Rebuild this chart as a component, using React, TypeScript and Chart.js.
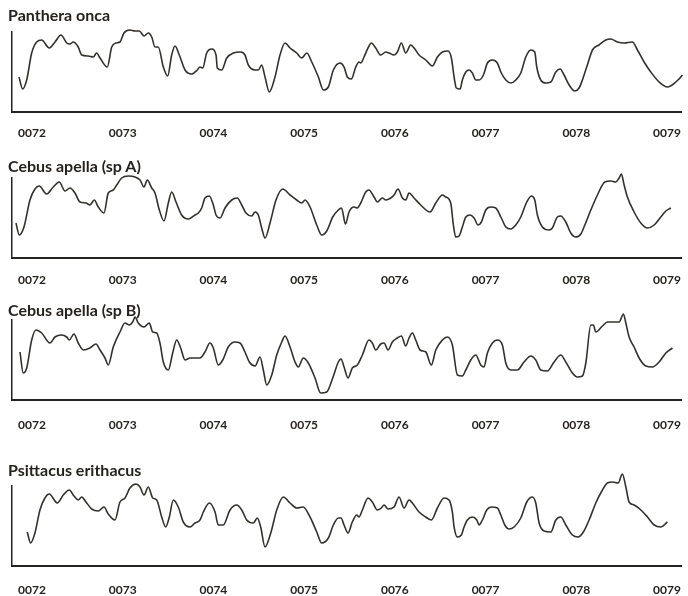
import React, { useEffect, useRef } from "react";
import { Chart, registerables } from "chart.js";

Chart.register(...registerables);

// ---- data ----
const TICK_VALUES = [72, 73, 74, 75, 76, 77, 78, 79];
const TICK_LABELS = ["0072", "0073", "0074", "0075", "0076", "0077", "0078", "0079"];
const X_MIN = 71.78;
const X_MAX = 79.154;
const Y_MIN = 0;
const Y_MAX = 80;

const TITLES = ["Panthera onca", "Cebus apella (sp A)", "Cebus apella (sp B)", "Psittacus erithacus"];

const pantheraX = [
  71.857, 71.897, 71.942, 71.997, 72.052, 72.107, 72.191, 72.254, 72.32, 72.383,
  72.419, 72.455, 72.51, 72.548, 72.621, 72.676, 72.713, 72.75, 72.83, 72.879,
  72.926, 72.97, 73.014, 73.08, 73.136, 73.183, 73.235, 73.282, 73.32, 73.356,
  73.392, 73.448, 73.496, 73.54, 73.577, 73.624, 73.687, 73.761, 73.822, 73.852,
  73.882, 73.926, 73.981, 74.029, 74.043, 74.091, 74.147, 74.219, 74.301, 74.348,
  74.385, 74.459, 74.495, 74.532, 74.569, 74.616, 74.679, 74.734, 74.789, 74.845,
  74.918, 74.974, 75.029, 75.084, 75.157, 75.212, 75.267, 75.322, 75.396, 75.44,
  75.476, 75.52, 75.569, 75.605, 75.624, 75.66, 75.704, 75.741, 75.789, 75.844,
  75.9, 75.936, 75.991, 76.028, 76.072, 76.12, 76.175, 76.212, 76.267, 76.341,
  76.413, 76.469, 76.524, 76.587, 76.623, 76.653, 76.678, 76.719, 76.744, 76.782,
  76.818, 76.854, 76.892, 76.928, 76.976, 77.02, 77.075, 77.13, 77.168, 77.223,
  77.278, 77.333, 77.388, 77.443, 77.498, 77.542, 77.564, 77.608, 77.664, 77.719,
  77.774, 77.821, 77.865, 77.921, 77.983, 78.031, 78.067, 78.122, 78.178, 78.251,
  78.325, 78.38, 78.453, 78.527, 78.618, 78.674, 78.747, 78.821, 78.913, 79.004,
  79.097, 79.17, 79.233,
];
const pantheraY = [
  35, 23, 32, 59, 70, 72, 64, 70, 77, 69,
  68, 70, 65, 57, 56, 55, 59, 54, 45, 65,
  69, 70, 79, 82, 81, 81, 76, 79, 75, 65,
  65, 45, 36, 57, 66, 57, 42, 38, 42, 45,
  44, 59, 63, 57, 44, 42, 54, 59, 60, 57,
  47, 42, 42, 47, 35, 20, 35, 57, 69, 64,
  59, 54, 59, 50, 35, 22, 25, 42, 49, 45,
  35, 33, 45, 50, 49, 55, 64, 69, 64, 57,
  60, 59, 57, 60, 69, 59, 67, 64, 57, 52,
  46, 55, 60, 61, 54, 35, 24, 23, 32, 40,
  42, 39, 32, 32, 37, 49, 52, 49, 40, 32,
  29, 32, 39, 55, 62, 60, 45, 32, 29, 30,
  40, 43, 37, 27, 21, 24, 32, 47, 62, 67,
  72, 73, 70, 69, 70, 62, 50, 40, 30, 25,
  30, 37, 47,
];

const cebusAX = [
  71.824, 71.86, 71.912, 71.978, 72.033, 72.08, 72.162, 72.235, 72.301, 72.364,
  72.419, 72.474, 72.529, 72.595, 72.639, 72.687, 72.731, 72.794, 72.841, 72.896,
  72.934, 72.989, 73.062, 73.136, 73.191, 73.235, 73.271, 73.32, 73.356, 73.404,
  73.455, 73.503, 73.54, 73.588, 73.65, 73.723, 73.797, 73.834, 73.871, 73.907,
  73.955, 73.999, 74.029, 74.073, 74.128, 74.202, 74.263, 74.312, 74.359, 74.422,
  74.459, 74.495, 74.532, 74.569, 74.624, 74.69, 74.764, 74.845, 74.918, 74.974,
  75.01, 75.065, 75.139, 75.194, 75.249, 75.315, 75.377, 75.412, 75.456, 75.495,
  75.55, 75.586, 75.624, 75.679, 75.715, 75.771, 75.807, 75.862, 75.9, 75.955,
  75.991, 76.035, 76.083, 76.12, 76.156, 76.212, 76.285, 76.388, 76.451, 76.524,
  76.561, 76.616, 76.645, 76.671, 76.708, 76.744, 76.782, 76.829, 76.873, 76.917,
  76.954, 77.002, 77.057, 77.112, 77.168, 77.223, 77.278, 77.333, 77.388, 77.454,
  77.505, 77.542, 77.571, 77.626, 77.7, 77.736, 77.791, 77.829, 77.884, 77.939,
  77.994, 78.05, 78.094, 78.16, 78.233, 78.314, 78.38, 78.435, 78.472, 78.497,
  78.527, 78.563, 78.637, 78.711, 78.784, 78.858, 78.931, 78.987, 79.042,
];
const cebusAY = [
  35, 23, 31, 58, 69, 72, 64, 71, 76, 67,
  70, 65, 56, 55, 53, 58, 51, 45, 65, 68,
  73, 80, 82, 81, 78, 71, 78, 70, 65, 48,
  37, 55, 66, 56, 43, 39, 43, 45, 50, 60,
  62, 53, 43, 40, 50, 58, 60, 53, 45, 42,
  46, 43, 30, 20, 35, 58, 69, 63, 58, 55,
  58, 51, 33, 23, 27, 41, 48, 50, 34, 46,
  51, 50, 55, 66, 68, 61, 56, 60, 58, 60,
  63, 69, 60, 58, 65, 60, 53, 46, 55, 63,
  61, 55, 33, 21, 22, 31, 41, 43, 40, 33,
  36, 48, 51, 50, 41, 31, 29, 33, 41, 56,
  62, 58, 43, 31, 28, 30, 41, 42, 36, 25,
  21, 24, 33, 48, 63, 76, 77, 76, 80, 84,
  73, 61, 46, 35, 30, 33, 41, 47, 50,
];

const cebusBX = [
  71.868, 71.904, 71.942, 71.997, 72.044, 72.107, 72.198, 72.254, 72.327, 72.383,
  72.411, 72.463, 72.51, 72.566, 72.639, 72.706, 72.75, 72.805, 72.841, 72.896,
  72.97, 73.025, 73.073, 73.11, 73.136, 73.172, 73.235, 73.293, 73.331, 73.375,
  73.411, 73.448, 73.503, 73.551, 73.595, 73.639, 73.687, 73.742, 73.852, 73.907,
  73.962, 73.999, 74.054, 74.103, 74.164, 74.238, 74.293, 74.348, 74.396, 74.459,
  74.514, 74.55, 74.588, 74.643, 74.698, 74.753, 74.789, 74.845, 74.9, 74.936,
  74.991, 75.046, 75.12, 75.183, 75.249, 75.315, 75.377, 75.407, 75.44, 75.484,
  75.531, 75.586, 75.642, 75.715, 75.752, 75.789, 75.844, 75.881, 75.925, 75.972,
  76.028, 76.072, 76.12, 76.156, 76.193, 76.23, 76.278, 76.341, 76.402, 76.451,
  76.524, 76.579, 76.634, 76.689, 76.744, 76.782, 76.837, 76.892, 76.947, 76.983,
  77.02, 77.075, 77.13, 77.185, 77.223, 77.278, 77.351, 77.424, 77.498, 77.553,
  77.608, 77.681, 77.755, 77.829, 77.884, 77.957, 78.012, 78.067, 78.105, 78.16,
  78.188, 78.215, 78.288, 78.343, 78.417, 78.472, 78.519, 78.546, 78.582, 78.637,
  78.692, 78.766, 78.839, 78.913, 78.987, 79.06,
];
const cebusBY = [
  48, 27, 32, 60, 70, 67, 57, 63, 65, 63,
  60, 66, 57, 50, 52, 56, 50, 42, 35, 53,
  68, 77, 75, 78, 83, 77, 73, 77, 68, 67,
  57, 38, 30, 47, 60, 52, 40, 42, 42, 48,
  57, 52, 35, 40, 53, 58, 57, 48, 38, 34,
  43, 30, 15, 25, 45, 58, 64, 53, 38, 33,
  42, 37, 22, 7, 8, 22, 38, 41, 33, 22,
  32, 35, 45, 60, 57, 50, 56, 57, 50, 58,
  62, 64, 54, 62, 67, 60, 50, 48, 35, 50,
  60, 63, 55, 25, 24, 30, 40, 45, 35, 33,
  47, 57, 60, 55, 37, 30, 30, 38, 44, 40,
  30, 29, 38, 45, 38, 27, 23, 24, 37, 75,
  75, 68, 74, 78, 78, 78, 86, 77, 63, 53,
  42, 34, 33, 38, 47, 52,
];

const psittacusX = [
  71.948, 71.986, 72.033, 72.088, 72.143, 72.191, 72.279, 72.345, 72.411, 72.463,
  72.51, 72.548, 72.595, 72.658, 72.731, 72.794, 72.841, 72.915, 72.97, 73.025,
  73.08, 73.147, 73.191, 73.235, 73.282, 73.331, 73.375, 73.43, 73.474, 73.514,
  73.558, 73.613, 73.668, 73.742, 73.797, 73.852, 73.889, 73.955, 74.018, 74.054,
  74.109, 74.183, 74.257, 74.312, 74.367, 74.44, 74.484, 74.521, 74.569, 74.632,
  74.698, 74.771, 74.845, 74.918, 74.991, 75.065, 75.139, 75.194, 75.267, 75.322,
  75.377, 75.407, 75.44, 75.484, 75.531, 75.58, 75.605, 75.642, 75.704, 75.752,
  75.807, 75.851, 75.881, 75.925, 75.991, 76.046, 76.101, 76.156, 76.193, 76.267,
  76.341, 76.402, 76.469, 76.542, 76.597, 76.634, 76.653, 76.689, 76.733, 76.763,
  76.799, 76.854, 76.903, 76.928, 76.965, 77.013, 77.064, 77.13, 77.168, 77.212,
  77.259, 77.314, 77.388, 77.454, 77.516, 77.553, 77.59, 77.645, 77.719, 77.774,
  77.829, 77.884, 77.957, 78.02, 78.078, 78.141, 78.215, 78.288, 78.343, 78.398,
  78.461, 78.508, 78.546, 78.582, 78.637, 78.711, 78.784, 78.858, 78.931, 79.004,
];
const psittacusY = [
  34, 23, 33, 56, 68, 72, 63, 71, 76, 70,
  66, 69, 64, 57, 55, 59, 52, 46, 64, 68,
  78, 82, 79, 71, 79, 68, 66, 49, 39, 49,
  66, 59, 44, 39, 43, 46, 54, 63, 54, 41,
  41, 56, 61, 56, 46, 43, 48, 39, 19, 33,
  56, 69, 63, 58, 59, 49, 34, 23, 28, 41,
  48, 48, 41, 33, 44, 51, 49, 56, 68, 64,
  56, 58, 61, 57, 59, 69, 58, 66, 63, 54,
  49, 46, 58, 68, 66, 54, 39, 29, 31, 39,
  46, 49, 46, 41, 46, 56, 59, 58, 51, 41,
  37, 39, 48, 64, 69, 63, 43, 35, 34, 46,
  49, 41, 31, 29, 34, 46, 63, 76, 83, 84,
  83, 92, 79, 64, 61, 56, 49, 41, 39, 44,
];

const SERIES_X = [pantheraX, cebusAX, cebusBX, psittacusX];
const SERIES_Y = [pantheraY, cebusAY, cebusBY, psittacusY];

// ---- layout / style (not data) ----
const PANELS = [
  { axisTop: 32, tickPad: 14, titleTop: 7 },
  { axisTop: 178, tickPad: 15, titleTop: 158 },
  { axisTop: 320, tickPad: 18, titleTop: 302 },
  { axisTop: 486, tickPad: 17, titleTop: 462 },
];
const PAD_TOP = 16;
const AXIS_H = 80;
const LINE_H = 15;
const TEXT = "#26221f";
const TRACE = "#34302c";
const FONT = "Lato, 'Open Sans', sans-serif";

function Panel({ index }: { index: number }) {
  const ref = useRef<HTMLCanvasElement | null>(null);
  const p = PANELS[index];
  const height = PAD_TOP + AXIS_H + 2 * p.tickPad + LINE_H + 2;

  useEffect(() => {
    if (!ref.current) return;
    const xs = SERIES_X[index];
    const ys = SERIES_Y[index];
    const n = Math.min(xs.length, ys.length);
    const pts = [];
    for (let i = 0; i < n; i++) pts.push({ x: xs[i], y: ys[i] });

    const chart = new Chart(ref.current, {
      type: "line",
      data: {
        datasets: [
          {
            data: pts,
            borderColor: TRACE,
            borderWidth: 1.6,
            pointRadius: 0,
            fill: false,
            cubicInterpolationMode: "monotone",
            clip: false as any,
          },
        ],
      },
      options: {
        animation: false,
        responsive: false,
        events: [],
        layout: { padding: { left: 12, right: 7, top: PAD_TOP, bottom: 2 } },
        plugins: {
          legend: { display: false },
          tooltip: { enabled: false },
          title: { display: false },
        },
        scales: {
          x: {
            type: "linear",
            min: X_MIN,
            max: X_MAX,
            grid: { display: false, drawTicks: false },
            border: { display: true, color: TEXT, width: 2 },
            afterBuildTicks: (scale: any) => {
              scale.ticks = TICK_VALUES.map((v) => ({ value: v }));
            },
            afterFit: (scale: any) => {
              scale.paddingLeft = 0;
              scale.paddingRight = 0;
            },
            ticks: {
              autoSkip: false,
              maxRotation: 0,
              padding: p.tickPad,
              color: TEXT,
              font: { family: FONT, size: 12, weight: "bold", lineHeight: LINE_H / 12 },
              callback: (v: any) => {
                const k = TICK_VALUES.indexOf(Number(v));
                return k >= 0 ? TICK_LABELS[k] : "";
              },
            },
          },
          y: {
            type: "linear",
            min: Y_MIN,
            max: Y_MAX,
            grid: { display: false, drawTicks: false },
            border: { display: true, color: TEXT, width: 1.5 },
            ticks: { display: false },
          },
        },
      },
    } as any);
    return () => chart.destroy();
  }, [index]);

  return (
    <div style={{ position: "absolute", left: 0, top: p.axisTop - PAD_TOP, width: 688, height }}>
      <canvas ref={ref} width={688} height={height} style={{ display: "block" }} />
    </div>
  );
}

export default function App() {
  return (
    <div
      style={{
        position: "absolute",
        left: 0,
        top: 0,
        width: 688,
        height: 596,
        background: "#ffffff",
        overflow: "hidden",
      }}
    >
      {PANELS.map((_, i) => (
        <Panel key={i} index={i} />
      ))}
      {PANELS.map((p, i) => (
        <div
          key={"t" + i}
          style={{
            position: "absolute",
            left: 8,
            top: p.titleTop,
            fontFamily: FONT,
            fontWeight: 700,
            fontSize: 16,
            lineHeight: "16px",
            color: TEXT,
            whiteSpace: "nowrap",
          }}
        >
          {TITLES[i]}
        </div>
      ))}
    </div>
  );
}
